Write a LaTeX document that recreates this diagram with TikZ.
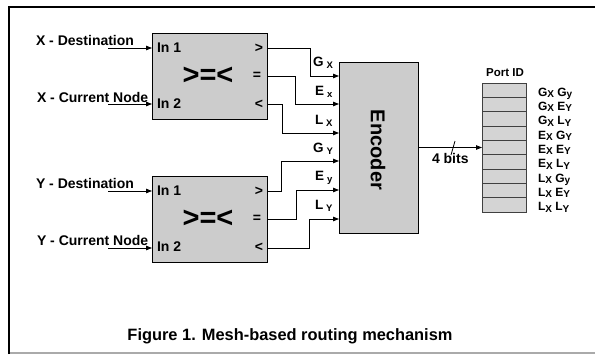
\documentclass[tikz,border=0pt]{standalone}
\usepackage{fontspec}
\setmainfont{Liberation Sans}
\usetikzlibrary{arrows.meta}
\definecolor{boxgray}{RGB}{204,204,204}
\definecolor{cellgray}{RGB}{212,212,212}
\definecolor{framegray}{RGB}{170,170,170}
\newcommand{\lsub}[2]{#1\hspace{3pt}\raisebox{-2pt}{\fontsize{9.5}{10}\selectfont #2}}
\newcommand{\psub}[2]{#1\raisebox{-1.5pt}{\fontsize{10}{10}\selectfont #2}}
\tikzset{
  every node/.style={font=\bfseries\fontsize{14}{15}\selectfont, inner sep=0pt, outer sep=0pt},
  blockbox/.style={draw=black, line width=0.8pt, fill=boxgray},
  cellbox/.style={draw=black!75, line width=0.8pt, fill=cellgray, minimum width=44pt, minimum height=14.33pt},
  wire/.style={line width=0.8pt},
  arr/.style={wire, -{Triangle[length=6pt,width=4.5pt]}},
  sublab/.style={anchor=base west, font=\bfseries\fontsize{13.5}{14}\selectfont},
  portlab/.style={anchor=base west, font=\bfseries\fontsize{12}{13}\selectfont},
}
\begin{document}
\begin{tikzpicture}[x=1pt,y=-1pt]
\useasboundingbox (0,0) rectangle (595,354);
% frame
\draw[line width=2.6pt, black] (9,354) -- (9,7) -- (595,7);
\draw[line width=1.5pt, framegray] (10,353) -- (595,353);

% comparators
\node[blockbox, minimum width=115pt, minimum height=86pt] (cx) at (209.5,76) {};
\node[blockbox, minimum width=115pt, minimum height=86pt] (cy) at (209.5,219) {};
% encoder
\node[blockbox, minimum width=79pt, minimum height=171pt] (enc) at (378.5,147.5) {};
\node[rotate=-90, font=\bfseries\fontsize{20}{22}\selectfont] (enclab) at (378,150) {Encoder};

% comparator texts
\foreach \c/\yy in {cx/76, cy/219}{
  \node[anchor=west] (\c in1) at (157,\yy-28) {In 1};
  \node[anchor=west] (\c in2) at (157,\yy+28) {In 2};
  \node[anchor=east] (\c gt) at (263,\yy-28) {>};
  \node[anchor=east] (\c eq) at (261,\yy) {=};
  \node[anchor=east] (\c lt) at (263,\yy+28) {<};
  \node[font=\bfseries\fontsize{29}{30}\selectfont] (\c sym) at (208,\yy) {>=<};
}

% input labels
\node[anchor=base west] (lxd) at (36,45) {X - Destination};
\node[anchor=base west] (lxc) at (37,102) {X - Current Node};
\node[anchor=base west] (lyd) at (36,188) {Y - Destination};
\node[anchor=base west] (lyc) at (37,245) {Y - Current Node};

% input arrows
\coordinate (sxd) at (108,48);  \coordinate (txd) at (152,48);
\coordinate (sxc) at (108,104); \coordinate (txc) at (152,104);
\coordinate (syd) at (108,191); \coordinate (tyd) at (152,191);
\coordinate (syc) at (108,248); \coordinate (tyc) at (152,248);
\draw[arr] (sxd) -- (txd);
\draw[arr] (sxc) -- (txc);
\draw[arr] (syd) -- (tyd);
\draw[arr] (syc) -- (tyc);

% output ports
\coordinate (cxg) at (267,48);  \coordinate (cxe) at (267,76);  \coordinate (cxl) at (267,104);
\coordinate (cyg) at (267,191); \coordinate (cye) at (267,219); \coordinate (cyl) at (267,248);
\coordinate (e1) at (339,76);  \coordinate (e2) at (339,104); \coordinate (e3) at (339,133);
\coordinate (e4) at (339,161); \coordinate (e5) at (339,190); \coordinate (e6) at (339,219);
\draw[arr] (cxg) -| (310,76) -- (e1);
\draw[arr] (cxe) -| (295,104) -- (e2);
\draw[arr] (cxl) -| (282,133) -- (e3);
\draw[arr] (cyg) -| (281,161) -- (e4);
\draw[arr] (cye) -| (296,190) -- (e5);
\draw[arr] (cyl) -| (309,219) -- (e6);

% signal labels
\node[sublab] (lgx) at (313,66) {\lsub{G}{X}};
\node[sublab] (lex) at (315,95) {\lsub{E}{x}};
\node[sublab] (llx) at (315,124) {\lsub{L}{X}};
\node[sublab] (lgy) at (313,152) {\lsub{G}{Y}};
\node[sublab] (ley) at (315,180) {\lsub{E}{y}};
\node[sublab] (lly) at (315,209) {\lsub{L}{Y}};

% Port ID table
\foreach \i in {1,...,9}{
  \node[cellbox] (p\i) at (504,{83+14.33*(\i-0.5)}) {};
}
\node[anchor=base, font=\bfseries\fontsize{11.5}{12}\selectfont] (pid) at (505,76) {Port ID};
\foreach \i/\t in {1/{\psub{G}{X} \psub{G}{y}},2/{\psub{G}{X} \psub{E}{Y}},3/{\psub{G}{X} \psub{L}{Y}},
                   4/{\psub{E}{X} \psub{G}{Y}},5/{\psub{E}{X} \psub{E}{Y}},6/{\psub{E}{X} \psub{L}{Y}},
                   7/{\psub{L}{X} \psub{G}{y}},8/{\psub{L}{X} \psub{E}{Y}},9/{\psub{L}{X} \psub{L}{Y}}}{
  \node[portlab] (pl\i) at (538,{83+14.33*(\i-0.5)+6}) {\t};
}

% encoder output
\draw[arr] (enc.east) -- (p5.west);
\coordinate (sl1) at (451,155); \coordinate (sl2) at (455,141);
\draw[wire] (sl1) -- (sl2);
\node[anchor=base west] (bits) at (432,163) {4 bits};

% caption
\node[font=\bfseries\fontsize{16.4}{18}\selectfont] (cap) at (290,336) {Figure 1. Mesh-based routing mechanism};
\end{tikzpicture}
\end{document}
